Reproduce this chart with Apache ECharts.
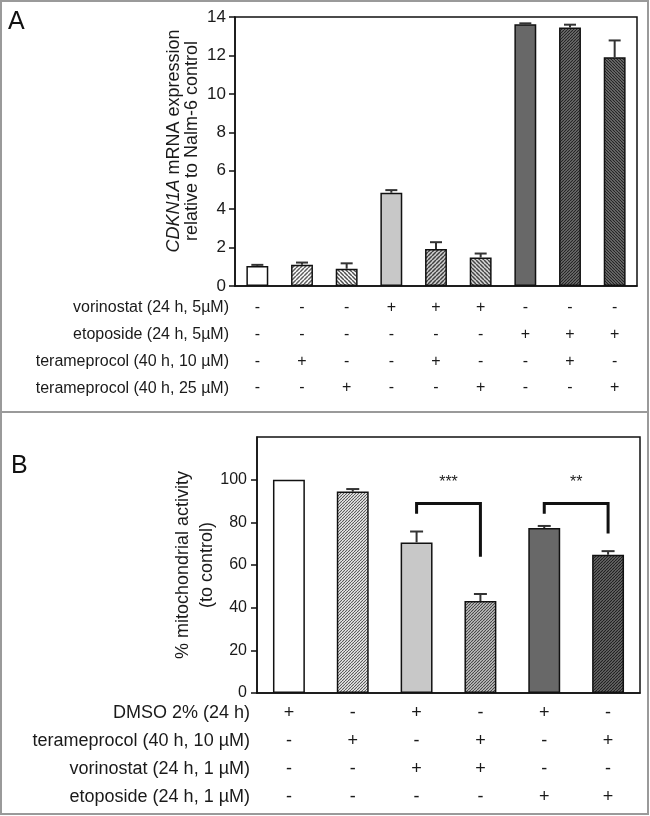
<!DOCTYPE html>
<html><head><meta charset="utf-8">
<script src="https://cdn.jsdelivr.net/npm/echarts@6/dist/echarts.min.js"></script>
<style>html,body{margin:0;padding:0;background:#fff}#c{width:650px;height:816px}</style>
</head><body><div id="c"></div>
<script>
// ---------- Panel A data ----------
const groupsA = ['1','2','3','4','5','6','7','8','9'];
const meanA = [1.04, 1.11, 0.90, 4.85, 1.93, 1.48, 13.62, 13.46, 11.91];
const semA  = [0.06, 0.11, 0.28, 0.14, 0.35, 0.21, 0.05, 0.14, 0.87];
const ticksA = [0, 2, 4, 6, 8, 10, 12, 14];
const rowLabelsA = ['vorinostat (24 h, 5\u00b5M)', 'etoposide (24 h, 5\u00b5M)', 'terameprocol (40 h, 10 \u00b5M)', 'terameprocol (40 h, 25 \u00b5M)'];
const signsA = [
  ['-','-','-','+','+','+','-','-','-'],
  ['-','-','-','-','-','-','+','+','+'],
  ['-','+','-','-','+','-','-','+','-'],
  ['-','-','+','-','-','+','-','-','+']
];
// ---------- Panel B data ----------
const groupsB = ['1','2','3','4','5','6'];
const meanB = [100, 94.4, 70.6, 43.1, 77.3, 64.8];
const semB  = [0, 1.2, 5.1, 3.3, 1.0, 1.7];
const ticksB = [0, 20, 40, 60, 80, 100];
const rowLabelsB = ['DMSO 2% (24 h)', 'terameprocol (40 h, 10 \u00b5M)', 'vorinostat (24 h, 1 \u00b5M)', 'etoposide (24 h, 1 \u00b5M)'];
const signsB = [
  ['+','-','+','-','+','-'],
  ['-','+','-','+','-','+'],
  ['-','-','+','+','-','-'],
  ['-','-','-','-','+','+']
];
const sigLeft = [2, 4];
const sigRight = [3, 5];
const sigTop = [88.8, 88.8];
const sigLeftEnd = [84, 84];
const sigRightEnd = [63.9, 74.8];
const sigStarY = [98.5, 98.5];
const sigLabels = ['***', '**'];

// ---------- styles ----------
function hatch(bg, fg, size, dir, lw) {
  const c = document.createElement('canvas');
  c.width = size; c.height = size;
  const g = c.getContext('2d');
  g.fillStyle = bg; g.fillRect(0, 0, size, size);
  g.strokeStyle = fg; g.lineWidth = lw; g.beginPath();
  for (let k = -1; k <= 1; k++) {
    if (dir === '/') { g.moveTo(k * size, size); g.lineTo(k * size + size, 0); }
    else { g.moveTo(k * size, 0); g.lineTo(k * size + size, size); }
  }
  g.stroke();
  return { image: c, repeat: 'repeat' };
}
const LIGHT = '#c8c8c8', DARK = '#686868';
const fillA = [
  '#ffffff', hatch('#ffffff', '#5e5e5e', 4, '/', 1.5), hatch('#ffffff', '#505050', 4, '\\', 1.5),
  LIGHT, hatch('#d0d0d0', '#404040', 4, '/', 1.5), hatch('#d8d8d8', '#454545', 4, '\\', 1.5),
  DARK, hatch('#777', '#222', 3, '/', 1.1), hatch('#777', '#222', 3, '\\', 1.1)
];
const fillB = [
  '#ffffff', hatch('#ffffff', '#555', 3, '/', 1.1), LIGHT,
  hatch('#d0d0d0', '#444', 3, '/', 1.1), DARK, hatch('#707070', '#1e1e1e', 3, '/', 1.1)
];
const TXT = '#1a1a1a';
const FONT = 'Liberation Sans, Arial, sans-serif';

function errItem(color, hw) {
  return function (params, api) {
    const b = api.coord([api.value(0), api.value(1)]);
    const t = api.coord([api.value(0), api.value(2)]);
    if (api.value(2) - api.value(1) <= 0) return null;
    return { type: 'group', children: [
      { type: 'line', shape: { x1: b[0], y1: b[1], x2: t[0], y2: t[1] }, style: { stroke: color, lineWidth: 2 } },
      { type: 'line', shape: { x1: t[0] - hw, y1: t[1], x2: t[0] + hw, y2: t[1] }, style: { stroke: color, lineWidth: 2 } }
    ]};
  };
}

const chart = echarts.init(document.getElementById('c'), null, { renderer: 'canvas' });
const rowYA = rowLabelsA.map((_, i) => 308 + i * 26.7);
const rowYB = rowLabelsB.map((_, i) => 713 + i * 28);

const option = {
  backgroundColor: '#fff',
  animation: false,
  textStyle: { fontFamily: FONT },
  grid: [
    { left: 235, right: 13, top: 17, bottom: 530, show: true, borderColor: '#111', borderWidth: 1.5, backgroundColor: 'transparent' },
    { left: 257, right: 10, top: 437, bottom: 123, show: true, borderColor: '#111', borderWidth: 1.5, backgroundColor: 'transparent' }
  ],
  xAxis: [
    { type: 'category', gridIndex: 0, data: groupsA,
      axisLine: { lineStyle: { color: '#111', width: 1.5 } }, axisTick: { show: false },
      axisLabel: { interval: 0, margin: 8.6, fontSize: 16, lineHeight: 26.7, color: TXT, fontFamily: FONT,
        formatter: (v, idx) => signsA.map(r => r[idx]).join('\n') } },
    { type: 'category', gridIndex: 1, data: groupsB,
      axisLine: { lineStyle: { color: '#111', width: 1.5 } }, axisTick: { show: false },
      axisLabel: { interval: 0, margin: 6, fontSize: 18, lineHeight: 28, color: TXT, fontFamily: FONT,
        formatter: (v, idx) => signsB.map(r => r[idx]).join('\n') } }
  ],
  yAxis: [
    { type: 'value', gridIndex: 0, min: 0, max: 14, interval: 2, splitLine: { show: false },
      axisLine: { show: true, lineStyle: { color: '#111', width: 1.5 } },
      axisTick: { show: true, length: 6, lineStyle: { color: '#111', width: 1.5 }, customValues: ticksA },
      axisLabel: { margin: 9, fontSize: 17, color: TXT, fontFamily: FONT, customValues: ticksA } },
    { type: 'value', gridIndex: 1, min: 0, max: 120, interval: 20, splitLine: { show: false },
      axisLine: { show: true, lineStyle: { color: '#111', width: 1.5 } },
      axisTick: { show: true, length: 6, lineStyle: { color: '#111', width: 1.5 }, customValues: ticksB },
      axisLabel: { margin: 10, fontSize: 16, color: TXT, fontFamily: FONT, customValues: ticksB } }
  ],
  series: [
    { type: 'bar', xAxisIndex: 0, yAxisIndex: 0, barWidth: '49%', z: 2,
      data: meanA.map((v, i) => ({ value: v, itemStyle: { color: fillA[i], borderColor: '#111', borderWidth: 1.5 } })) },
    { type: 'custom', xAxisIndex: 0, yAxisIndex: 0, z: 3, renderItem: errItem('#333', 6),
      data: meanA.map((v, i) => [i, v, v + semA[i]]) },
    { type: 'bar', xAxisIndex: 1, yAxisIndex: 1, barWidth: '50%', z: 2,
      data: meanB.map((v, i) => ({ value: v, itemStyle: { color: fillB[i], borderColor: '#111', borderWidth: 1.5 } })) },
    { type: 'custom', xAxisIndex: 1, yAxisIndex: 1, z: 3, renderItem: errItem('#333', 6.5),
      data: meanB.map((v, i) => [i, v, v + semB[i]]) },
    { type: 'custom', xAxisIndex: 1, yAxisIndex: 1, z: 4,
      data: sigLeft.map((l, i) => [l, sigRight[i], sigTop[i], sigLeftEnd[i], sigRightEnd[i], sigStarY[i]]),
      renderItem: function (params, api) {
        const a = api.coord([api.value(0), api.value(3)]);
        const top = api.coord([api.value(0), api.value(2)]);
        const b = api.coord([api.value(1), api.value(4)]);
        const topR = api.coord([api.value(1), api.value(2)]);
        const star = api.coord([api.value(0), api.value(5)]);
        return { type: 'group', children: [
          { type: 'polyline', shape: { points: [a, top, topR, b] }, style: { stroke: '#111', lineWidth: 3, fill: null } },
          { type: 'text', style: { text: sigLabels[params.dataIndex], x: (top[0] + topR[0]) / 2, y: star[1],
            align: 'center', verticalAlign: 'middle', fontSize: 16, fill: '#222', fontFamily: FONT } }
        ]};
      } }
  ],
  graphic: [
    { type: 'rect', shape: { x: 1, y: 1, width: 647, height: 813 }, style: { fill: null, stroke: '#9a9a9a', lineWidth: 2 }, z: 10 },
    { type: 'line', shape: { x1: 1, y1: 412, x2: 648, y2: 412 }, style: { stroke: '#9a9a9a', lineWidth: 2 }, z: 10 },
    { type: 'text', style: { text: 'A', x: 8, y: 10, fontSize: 25, fill: '#111', fontFamily: FONT } },
    { type: 'text', style: { text: 'B', x: 11, y: 454, fontSize: 25, fill: '#111', fontFamily: FONT } },
    { type: 'text', x: 183, y: 141, rotation: Math.PI / 2,
      style: { text: '{i|CDKN1A} mRNA expression\nrelative to Nalm-6 control', align: 'center', verticalAlign: 'middle',
        fontSize: 18, lineHeight: 18, fill: TXT, fontFamily: FONT,
        rich: { i: { fontStyle: 'italic', fontSize: 18, lineHeight: 18, fill: TXT, fontFamily: FONT } } } },
    { type: 'text', x: 195, y: 565, rotation: Math.PI / 2,
      style: { text: '% mitochondrial activity\n(to control)', align: 'center', verticalAlign: 'middle',
        fontSize: 18, lineHeight: 24, fill: TXT, fontFamily: FONT } }
  ].concat(
    rowLabelsA.map((t, i) => ({ type: 'text', style: { text: t, x: 229, y: rowYA[i], align: 'right', verticalAlign: 'middle', fontSize: 16, fill: TXT, fontFamily: FONT } })),
    rowLabelsB.map((t, i) => ({ type: 'text', style: { text: t, x: 250, y: rowYB[i], align: 'right', verticalAlign: 'middle', fontSize: 18, fill: TXT, fontFamily: FONT } }))
  )
};
chart.setOption(option);
</script></body></html>
